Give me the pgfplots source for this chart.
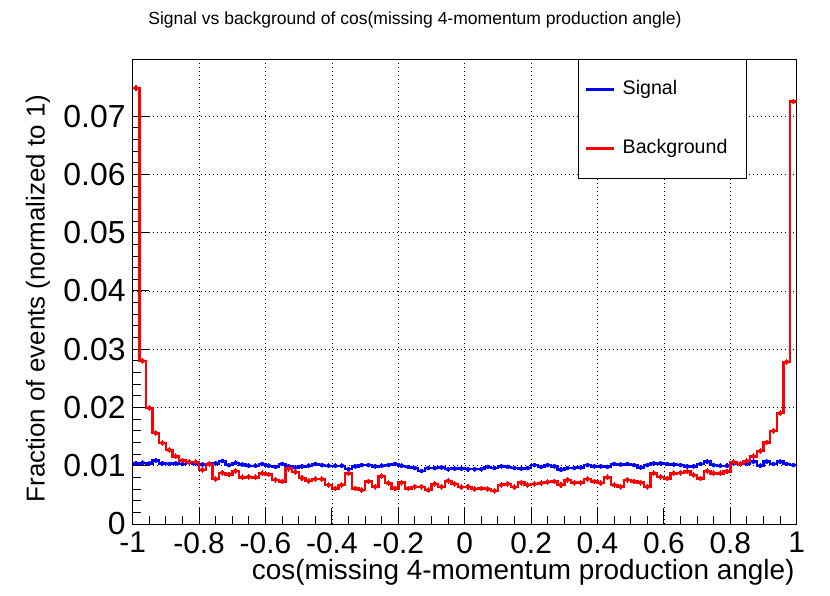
\documentclass[border=0pt]{standalone}
\usepackage{fontspec}
\setmainfont{Liberation Sans}
\usepackage{pgfplots}
\usepackage{pgfplotstable}
\pgfplotsset{compat=1.18}
\pgfplotstableread{
x s b
-1.00 0.0104 0.0748
-0.98 0.0105 0.0280
-0.96 0.0104 0.0199
-0.94 0.0109 0.0156
-0.92 0.0104 0.0139
-0.90 0.0103 0.0127
-0.88 0.0104 0.0116
-0.86 0.0103 0.0109
-0.84 0.0106 0.0106
-0.82 0.0104 0.0106
-0.80 0.0102 0.0093
-0.78 0.0103 0.0103
-0.76 0.0104 0.0077
-0.74 0.0108 0.0088
-0.72 0.0101 0.0085
-0.70 0.0105 0.0091
-0.68 0.0102 0.0080
-0.66 0.0100 0.0081
-0.64 0.0100 0.0080
-0.62 0.0103 0.0087
-0.60 0.0100 0.0085
-0.58 0.0098 0.0076
-0.56 0.0103 0.0073
-0.54 0.0099 0.0095
-0.52 0.0097 0.0089
-0.50 0.0099 0.0079
-0.48 0.0100 0.0074
-0.46 0.0103 0.0077
-0.44 0.0101 0.0077
-0.42 0.0100 0.0067
-0.40 0.0100 0.0061
-0.38 0.0100 0.0067
-0.36 0.0094 0.0087
-0.34 0.0099 0.0061
-0.32 0.0101 0.0058
-0.30 0.0101 0.0073
-0.28 0.0099 0.0064
-0.26 0.0100 0.0082
-0.24 0.0101 0.0070
-0.22 0.0103 0.0061
-0.20 0.0100 0.0071
-0.18 0.0098 0.0061
-0.16 0.0096 0.0064
-0.14 0.0091 0.0064
-0.12 0.0096 0.0058
-0.10 0.0096 0.0069
-0.08 0.0097 0.0064
-0.06 0.0094 0.0074
-0.04 0.0095 0.0069
-0.02 0.0095 0.0063
0.00 0.0094 0.0064
0.02 0.0094 0.0060
0.04 0.0094 0.0061
0.06 0.0098 0.0060
0.08 0.0096 0.0057
0.10 0.0099 0.0067
0.12 0.0098 0.0069
0.14 0.0096 0.0063
0.16 0.0095 0.0071
0.18 0.0096 0.0067
0.20 0.0101 0.0069
0.22 0.0098 0.0070
0.24 0.0101 0.0072
0.26 0.0099 0.0073
0.28 0.0093 0.0067
0.30 0.0096 0.0076
0.32 0.0096 0.0071
0.34 0.0097 0.0071
0.36 0.0101 0.0077
0.38 0.0099 0.0073
0.40 0.0099 0.0070
0.42 0.0098 0.0080
0.44 0.0103 0.0067
0.46 0.0102 0.0064
0.48 0.0103 0.0076
0.50 0.0101 0.0073
0.52 0.0097 0.0071
0.54 0.0101 0.0064
0.56 0.0104 0.0087
0.58 0.0104 0.0081
0.60 0.0103 0.0078
0.62 0.0102 0.0087
0.64 0.0101 0.0088
0.66 0.0099 0.0090
0.68 0.0099 0.0084
0.70 0.0103 0.0078
0.72 0.0107 0.0091
0.74 0.0101 0.0087
0.76 0.0100 0.0087
0.78 0.0100 0.0090
0.80 0.0104 0.0106
0.82 0.0103 0.0103
0.84 0.0103 0.0108
0.86 0.0107 0.0116
0.88 0.0100 0.0125
0.90 0.0107 0.0140
0.92 0.0103 0.0160
0.94 0.0107 0.0190
0.96 0.0103 0.0278
0.98 0.0101 0.0725
1.00 0.0101 0.0725
}\hist
\begin{document}
\begin{tikzpicture}
\path[use as bounding box] (-132.7bp,-72bp) rectangle (697.3bp,524bp);
\begin{axis}[
  at={(0,0)}, anchor=south west,
  scale only axis, width=664bp, height=465bp,
  xmin=-1, xmax=1, ymin=0, ymax=0.0798,
  scaled y ticks=false, scaled x ticks=false,
  xtick={-1,-0.8,-0.6,-0.4,-0.2,0,0.2,0.4,0.6,0.8,1},
  xticklabels={-1,-0.8,-0.6,-0.4,-0.2,0,0.2,0.4,0.6,0.8,1},
  ytick={0,0.01,0.02,0.03,0.04,0.05,0.06,0.07},
  yticklabels={0,0.01,0.02,0.03,0.04,0.05,0.06,0.07},
  minor x tick num=3, minor y tick num=4,
  tick pos=left, tick align=inside,
  major tick length=16bp, minor tick length=8bp,
  tick style={black, line width=0.9bp},
  xmajorgrids, ymajorgrids,
  grid style={black, line width=0.8bp, dash pattern=on 1bp off 3bp},
  axis line style={black, line width=0.9bp},
  /pgf/number format/assume math mode=true,
  ticklabel style={font=\fontsize{30}{35}\selectfont, inner sep=0pt},
  xticklabel style={anchor=north, yshift=-8bp},
  yticklabel style={anchor=east, xshift=-7bp, font=\fontsize{32}{37}\selectfont},
  xlabel={cos(missing 4-momentum production angle)},
  xlabel style={at={(axis description cs:0.997,-0.1204)}, anchor=base east, font=\fontsize{28}{33}\selectfont, inner sep=0pt},
  ylabel={Fraction of events (normalized to 1)},
  ylabel style={at={(axis description cs:-0.1426,0.485)}, anchor=center, rotate=0, font=\fontsize{26}{31}\selectfont, inner sep=0pt},
  title={Signal vs background of cos(missing 4-momentum production angle)},
  title style={at={(axis description cs:0.425,1.0710)}, anchor=center, font=\fontsize{17.6}{21}\selectfont, inner sep=0pt},
  legend style={at={(axis description cs:0.925,1)}, anchor=north east, draw=black, line width=0.9bp, fill=white,
    font=\fontsize{19.7}{24}\selectfont, inner xsep=6bp, inner ysep=21bp, row sep=41bp,
    nodes={inner sep=0pt, text height=14bp, text depth=4bp}},
  legend cell align=left,
  legend image code/.code={\draw[#1, line width=2.4bp] (0bp,0bp) -- (28bp,0bp); \path (36bp,0bp);},
]
\addplot[const plot mark left, blue, line width=2.4bp] table[x=x, y=s]{\hist};
\addlegendentry{Signal}
\addplot[const plot mark left, red, line width=2.4bp] table[x=x, y=b]{\hist};
\addlegendentry{Background\hspace*{13bp}}
\addplot[forget plot, only marks, mark=none, blue, error bars/.cd, y dir=both, y fixed=0.0004, error mark=none, error bar style={line width=1.1bp, blue}] table[x expr=\thisrow{x}+0.01, y=s]{\hist};
\addplot[forget plot, only marks, mark=none, red, error bars/.cd, y dir=both, y fixed=0.0005, error mark=none, error bar style={line width=1.1bp, red}] table[x expr=\thisrow{x}+0.01, y=b]{\hist};
\end{axis}
\end{tikzpicture}
\end{document}
